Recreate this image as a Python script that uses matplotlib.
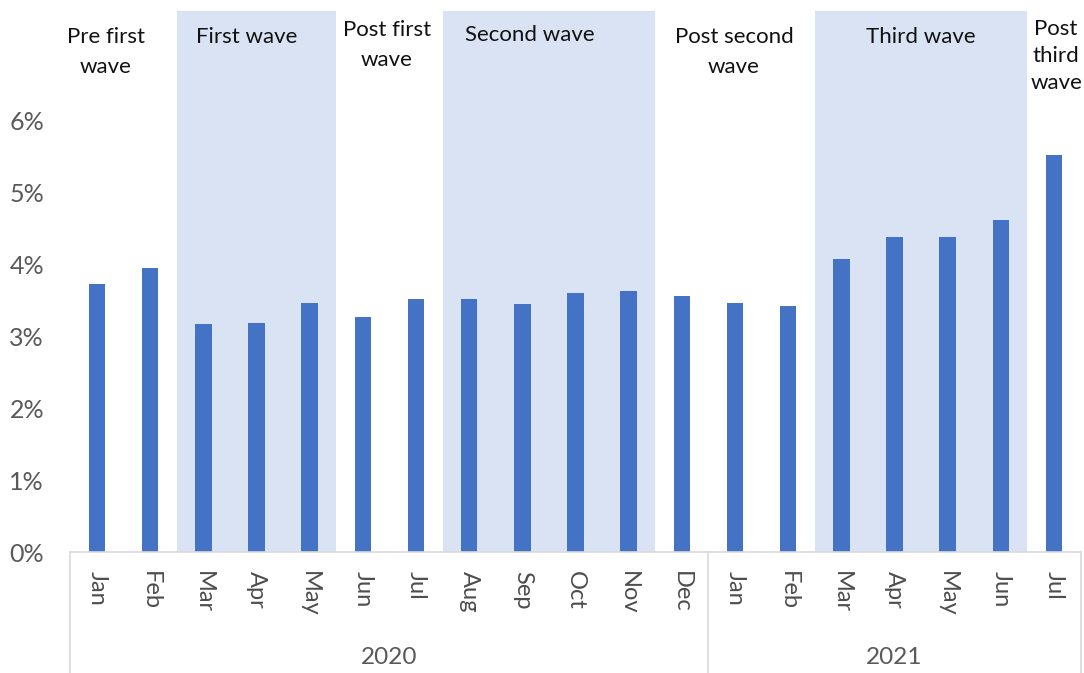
import matplotlib
matplotlib.use("Agg")
import matplotlib.pyplot as plt
from matplotlib.lines import Line2D

months = ["Jan", "Feb", "Mar", "Apr", "May", "Jun", "Jul", "Aug", "Sep", "Oct", "Nov", "Dec",
          "Jan", "Feb", "Mar", "Apr", "May", "Jun", "Jul"]
values = [3.72, 3.94, 3.16, 3.18, 3.46, 3.26, 3.52, 3.52, 3.44, 3.60, 3.62, 3.55,
          3.46, 3.41, 4.07, 4.38, 4.38, 4.61, 5.52]
years = ["2020", "2021"]
year_counts = [12, 7]
wave_labels = ["Pre first\nwave", "First wave", "Post first\nwave", "Second wave",
               "Post second\nwave", "Third wave", "Post\nthird\nwave"]
wave_spans = [(0, 1), (2, 4), (5, 6), (7, 10), (11, 13), (14, 17), (18, 18)]
wave_shaded = [False, True, False, True, False, True, False]
yticks = [0, 1, 2, 3, 4, 5, 6]

FONT = ["Lato", "DejaVu Sans"]
plt.rcParams["font.family"] = FONT

W, H = 1084, 673
fig = plt.figure(figsize=(W / 100, H / 100), dpi=100)
left_px, right_px, base_px, top_px = 70.4, 1080.6, 552, 11
ax = fig.add_axes([left_px / W, (H - base_px) / H, (right_px - left_px) / W, (base_px - top_px) / H])

n = len(months)
x = list(range(n))
ymax = (base_px - top_px) / 72.0
ax.set_xlim(-0.5, n - 0.5)
ax.set_ylim(0, ymax)

for (a, b), shaded in zip(wave_spans, wave_shaded):
    if shaded:
        ax.axvspan(a - 0.5, b + 0.5, color="#DAE3F3", zorder=0, lw=0)

ax.bar(x, values, width=0.31, color="#4472C4", zorder=2)

for s in ["top", "right", "left"]:
    ax.spines[s].set_visible(False)
ax.spines["bottom"].set_color("#D9D9D9")
ax.spines["bottom"].set_linewidth(1.2)

ax.set_yticks(yticks)
ax.set_yticklabels([f"{v}%" for v in yticks], fontsize=18, color="#595959")
ax.tick_params(axis="y", length=0, pad=19)
ax.set_xticks([])

trans = ax.get_xaxis_transform()
axh = base_px - top_px
for i, m in enumerate(months):
    ax.text(i, -19 / axh, m, rotation=270, ha="center", va="top", fontsize=17,
            color="#4d4d4d", transform=trans)

# year labels and separators
start = 0
bounds = [-0.5]
for yl, c in zip(years, year_counts):
    end = start + c
    ax.text((start + end - 1) / 2, -106 / axh, yl, ha="center", va="center", fontsize=17.5,
            color="#595959", transform=trans)
    bounds.append(end - 0.5)
    start = end
for bx in bounds:
    ax.add_line(Line2D([bx, bx], [0, -130 / axh], transform=trans, color="#D9D9D9",
                       lw=1.2, clip_on=False))

# wave labels
wave_x = [0.17, 2.81, 5.45, 8.14, 11.98, 15.5, 18.04]
wave_y = [52, 37, 45, 35, 52, 37, 56]
wave_ls = [1.6, 1.4, 1.6, 1.4, 1.6, 1.4, 1.45]
for lab, wx, wy, ls in zip(wave_labels, wave_x, wave_y, wave_ls):
    ax.text(wx, (base_px - wy) / axh, lab, ha="center", va="center", fontsize=16,
            color="#111111", transform=trans, linespacing=ls)

fig.savefig("out.png", dpi=100)
